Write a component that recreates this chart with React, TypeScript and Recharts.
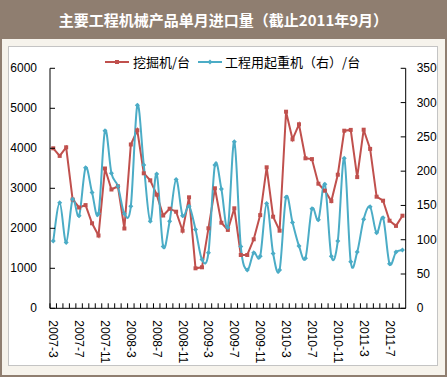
import { Line, LineChart, XAxis, YAxis } from "recharts";

const months = [
  "2007-3", "2007-4", "2007-5", "2007-6", "2007-7", "2007-8", "2007-9", "2007-10", "2007-11", "2007-12",
  "2008-1", "2008-2", "2008-3", "2008-4", "2008-5", "2008-6", "2008-7", "2008-8", "2008-9", "2008-10",
  "2008-11", "2008-12", "2009-1", "2009-2", "2009-3", "2009-4", "2009-5", "2009-6", "2009-7", "2009-8",
  "2009-9", "2009-10", "2009-11", "2009-12", "2010-1", "2010-2", "2010-3", "2010-4", "2010-5", "2010-6",
  "2010-7", "2010-8", "2010-9", "2010-10", "2010-11", "2010-12", "2011-1", "2011-2", "2011-3", "2011-4",
  "2011-5", "2011-6", "2011-7", "2011-8", "2011-9",
];

// 挖掘机/台 (left axis)
const excavators = [
  4000, 3810, 4025, 2720, 2520, 2580, 2125, 1820, 3495, 2970,
  3050, 1995, 4095, 4450, 3375, 3200, 2840, 2320, 2490, 2415,
  1940, 2775, 1000, 1025, 2000, 3000, 2140, 1960, 2500, 1333,
  1333, 1725, 2330, 3525, 2290, 1940, 4915, 4225, 4600, 3750,
  3730, 3115, 2940, 2680, 3340, 4440, 4460, 3280, 4465, 3985,
  2790, 2690, 2190, 2060, 2315,
];

// 工程用起重机（右）/台 (right axis)
const cranes = [
  98, 154, 96, 159, 135, 205, 169, 138, 259, 197,
  178, 138, 149, 296, 209, 127, 196, 90, 127, 188,
  135, 149, 115, 71, 81, 209, 174, 118, 243, 90,
  56, 81, 76, 153, 80, 56, 162, 125, 91, 73,
  145, 129, 181, 76, 98, 219, 68, 82, 130, 148,
  110, 132, 65, 82, 85,
];

const leftTicks = [0, 1000, 2000, 3000, 4000, 5000, 6000];
const rightTicks = [0, 50, 100, 150, 200, 250, 300, 350];

const data = months.map((m, i) => ({ month: m, excavator: excavators[i], crane: cranes[i] }));

const RED = "#C0504D";
const TEAL = "#4BACC6";
const TICK_FONT = "'Liberation Sans', Arial, sans-serif";
const CJK_FONT = "'Noto Sans CJK SC', sans-serif";
const HALF_BAND = (405.7 - 50) / months.length / 2;

// Excel-like smoothed line (Catmull-Rom through every point)
function smoothCurve(context: any) {
  let pts: number[][] = [];
  return {
    areaStart() {},
    areaEnd() {},
    lineStart() {
      pts = [];
    },
    point(x: number, y: number) {
      pts.push([+x, +y]);
    },
    lineEnd() {
      if (!pts.length) return;
      context.moveTo(pts[0][0], pts[0][1]);
      for (let i = 0; i < pts.length - 1; i++) {
        const p0 = pts[i - 1] || pts[i];
        const p1 = pts[i];
        const p2 = pts[i + 1];
        const p3 = pts[i + 2] || p2;
        context.bezierCurveTo(
          p1[0] + (p2[0] - p0[0]) / 6,
          p1[1] + (p2[1] - p0[1]) / 6,
          p2[0] - (p3[0] - p1[0]) / 6,
          p2[1] - (p3[1] - p1[1]) / 6,
          p2[0],
          p2[1],
        );
      }
    },
  };
}

function SquareDot({ cx, cy }: any) {
  if (cx == null || cy == null) return null;
  return <rect x={cx - 2} y={cy - 2} width={4} height={4} fill={RED} />;
}

function DiamondDot({ cx, cy }: any) {
  if (cx == null || cy == null) return null;
  return <path d={`M${cx},${cy - 2.5}L${cx + 2.5},${cy}L${cx},${cy + 2.5}L${cx - 2.5},${cy}Z`} fill={TEAL} />;
}

function MonthTick({ x, y, payload }: any) {
  const idx = payload.index as number;
  return (
    <g transform={`translate(${x},${y})`}>
      <line x1={-HALF_BAND} y1={-12} x2={-HALF_BAND} y2={-17} stroke="#000" />
      {idx % 4 === 0 ? (
        <text
          transform="rotate(90)"
          x={0}
          y={0}
          dy={4}
          textAnchor="start"
          fontSize={12}
          fontFamily={TICK_FONT}
          fill="#000"
        >
          {payload.value}
        </text>
      ) : null}
    </g>
  );
}

function LeftTick({ x, y, payload }: any) {
  return (
    <g>
      <line x1={x + 13} y1={y} x2={x + 18} y2={y} stroke="#000" />
      <text x={x} y={y} dy={4} textAnchor="end" fontSize={12} fontFamily={TICK_FONT} fill="#000">
        {payload.value}
      </text>
    </g>
  );
}

function RightTick({ x, y, payload }: any) {
  return (
    <g>
      <line x1={x - 11} y1={y} x2={x - 16} y2={y} stroke="#000" />
      <text x={x} y={y} dy={4} textAnchor="start" fontSize={12} fontFamily={TICK_FONT} fill="#000">
        {payload.value}
      </text>
    </g>
  );
}

export default function App() {
  return (
    <div
      style={{
        position: "absolute",
        left: 0,
        top: 0,
        width: 447,
        height: 377,
        background: "#F6F3EC",
        boxSizing: "border-box",
        borderLeft: "2px solid #8F7E70",
        borderRight: "2px solid #8F7E70",
        borderBottom: "2px solid #8F7E70",
        overflow: "hidden",
      }}
    >
      <div
        style={{
          position: "absolute",
          left: -2,
          top: 0,
          width: 447,
          height: 39,
          background: "#8F7E70",
          color: "#FFFFFF",
          fontFamily: CJK_FONT,
          fontWeight: 700,
          fontSize: 15,
          lineHeight: "39px",
          textAlign: "center",
        }}
      >
        主要工程机械产品单月进口量（截止2011年9月）
      </div>
      <div
        style={{
          position: "absolute",
          left: 6,
          top: 46,
          width: 430,
          height: 320,
          background: "#FFFFFF",
          border: "1px solid #C4C4C4",
          boxSizing: "border-box",
        }}
      />
      <div
        style={{
          position: "absolute",
          left: 103,
          top: 52,
          display: "flex",
          alignItems: "center",
          fontFamily: CJK_FONT,
          fontSize: 13,
          color: "#000",
          whiteSpace: "nowrap",
        }}
      >
        <svg width={24} height={8} style={{ marginRight: 4 }}>
          <line x1={0} y1={4} x2={24} y2={4} stroke={RED} strokeWidth={2} />
          <rect x={10} y={2} width={4} height={4} fill={RED} />
        </svg>
        <span style={{ marginRight: 8 }}>挖掘机/台</span>
        <svg width={24} height={8} style={{ marginRight: 3 }}>
          <line x1={0} y1={4} x2={24} y2={4} stroke={TEAL} strokeWidth={2} />
          <path d="M12,1.5L14.5,4L12,6.5L9.5,4Z" fill={TEAL} />
        </svg>
        <span>工程用起重机（右）/台</span>
      </div>
      <div style={{ position: "absolute", left: -2, top: 0 }}>
        <LineChart
          width={447}
          height={377}
          data={data}
          margin={{ top: 68.3, right: 6.3, bottom: 28.7, left: 10 }}
        >
          <XAxis
            dataKey="month"
            interval={0}
            tick={<MonthTick />}
            tickLine={false}
            tickSize={0}
            tickMargin={12}
            height={40}
            padding={{ left: HALF_BAND, right: HALF_BAND }}
            axisLine={{ stroke: "#000" }}
          />
          <YAxis
            yAxisId="left"
            domain={[0, 6000]}
            ticks={leftTicks}
            interval={0}
            width={40}
            tick={<LeftTick />}
            tickLine={false}
            tickSize={0}
            tickMargin={13}
            axisLine={{ stroke: "#000" }}
          />
          <YAxis
            yAxisId="right"
            orientation="right"
            domain={[0, 350]}
            ticks={rightTicks}
            interval={0}
            width={35}
            tick={<RightTick />}
            tickLine={false}
            tickSize={0}
            tickMargin={11}
            axisLine={{ stroke: "#000" }}
          />
          <Line
            yAxisId="left"
            dataKey="excavator"
            name="挖掘机/台"
            type="linear"
            stroke={RED}
            strokeWidth={2}
            dot={<SquareDot />}
            activeDot={false}
            isAnimationActive={false}
          />
          <Line
            yAxisId="right"
            dataKey="crane"
            name="工程用起重机（右）/台"
            type={smoothCurve as any}
            stroke={TEAL}
            strokeWidth={2}
            dot={<DiamondDot />}
            activeDot={false}
            isAnimationActive={false}
          />
        </LineChart>
      </div>
    </div>
  );
}
